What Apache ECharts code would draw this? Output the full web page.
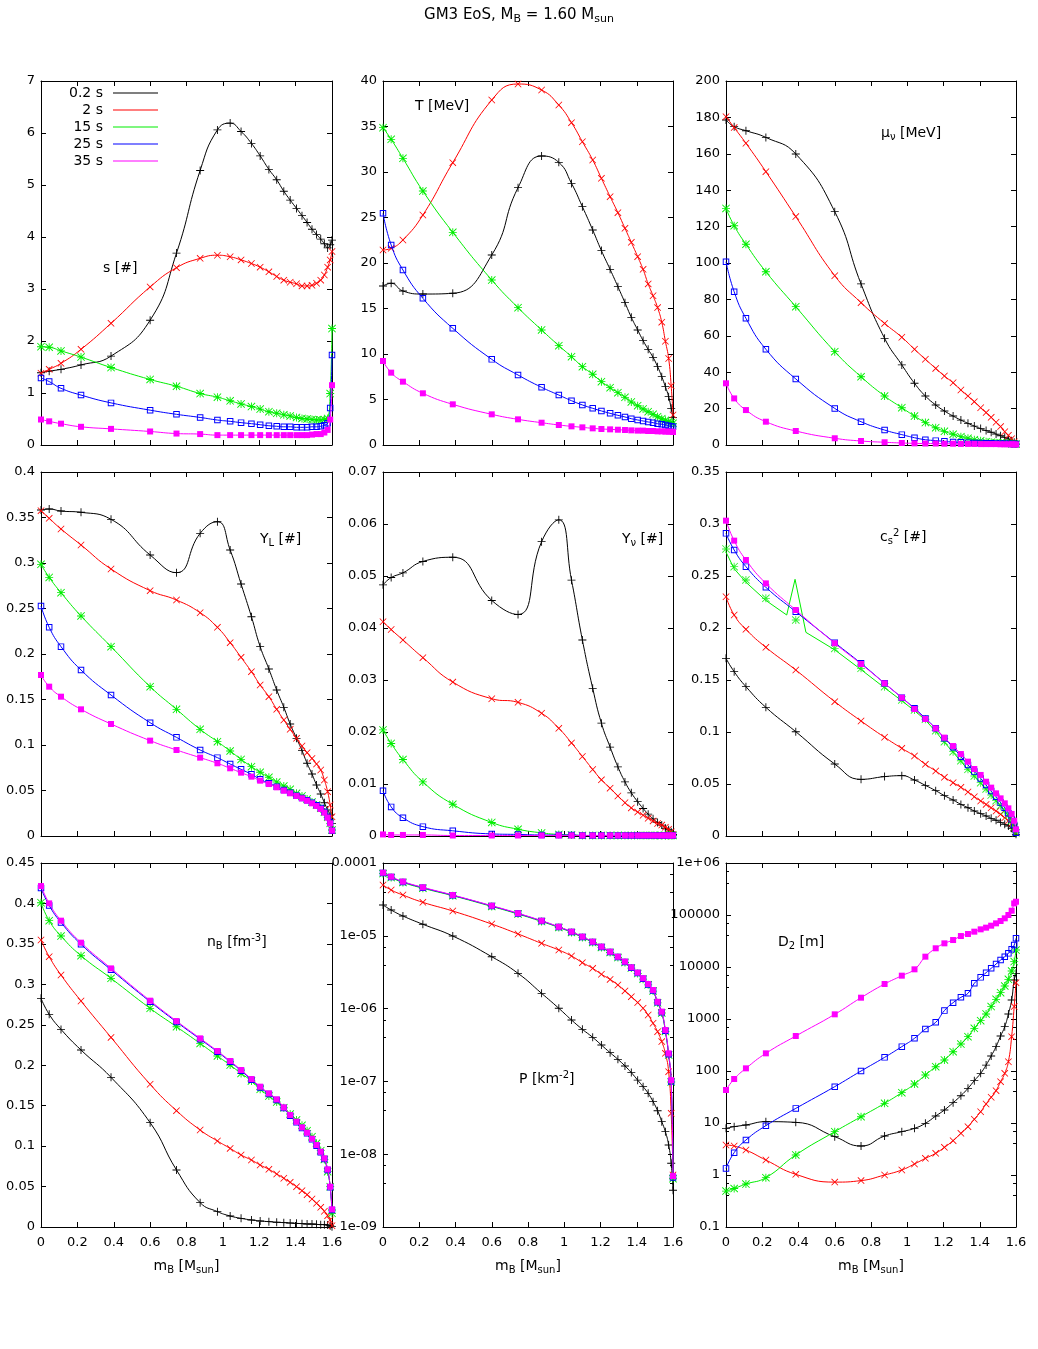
<!DOCTYPE html>
<html><head><meta charset="utf-8">
<script src="https://cdn.jsdelivr.net/npm/echarts@6/dist/echarts.min.js"></script>
<style>html,body{margin:0;padding:0;background:#fff}#c{width:1038px;height:1349px}</style>
</head><body><div id="c"></div>
<script>
// ---------------- data ----------------
const times = ['0.2 s', '2 s', '15 s', '25 s', '35 s'];
const mass = [0, 0.045, 0.11, 0.22, 0.385, 0.6, 0.745, 0.875, 0.97, 1.04, 1.1, 1.157, 1.205, 1.253, 1.296, 1.335, 1.37, 1.405, 1.435, 1.463, 1.49, 1.515, 1.538, 1.558, 1.576, 1.59, 1.6];

// entropy per baryon s [#]
const s02 = [1.39,1.42,1.455,1.54,1.71,2.40,3.69,5.28,6.06,6.19,6.03,5.80,5.56,5.30,5.10,4.88,4.71,4.55,4.41,4.28,4.15,4.05,3.96,3.87,3.79,3.85,3.94];
const s2  = [1.38,1.455,1.57,1.84,2.34,3.04,3.41,3.59,3.65,3.62,3.56,3.49,3.42,3.33,3.24,3.17,3.13,3.10,3.06,3.06,3.07,3.11,3.17,3.27,3.42,3.56,3.72];
const s15 = [1.89,1.88,1.81,1.69,1.49,1.26,1.13,0.99,0.92,0.85,0.79,0.74,0.69,0.64,0.61,0.58,0.56,0.53,0.51,0.50,0.49,0.48,0.48,0.49,0.51,0.99,2.24];
const s25 = [1.29,1.22,1.09,0.96,0.81,0.67,0.59,0.53,0.48,0.455,0.43,0.41,0.39,0.37,0.36,0.35,0.35,0.34,0.34,0.34,0.35,0.35,0.36,0.38,0.42,0.71,1.73];
const s35 = [0.49,0.455,0.41,0.35,0.31,0.26,0.22,0.21,0.19,0.19,0.19,0.19,0.19,0.19,0.19,0.19,0.19,0.19,0.19,0.19,0.20,0.21,0.21,0.24,0.29,0.49,1.15];

// temperature T [MeV]
const T02 = [17.47,17.77,16.92,16.59,16.67,20.88,28.28,31.76,31.06,28.75,26.19,23.63,21.36,19.30,17.40,15.64,14.03,12.64,11.47,10.51,9.63,8.61,7.51,6.41,5.31,4.03,3.04];
const T2  = [21.43,21.61,22.53,25.27,31.03,37.91,39.67,39.01,37.36,35.42,33.33,31.32,29.30,27.29,25.53,23.81,22.27,20.7,19.3,17.7,16.4,15.1,13.5,11.4,9.5,6.5,3.3];
const T15 = [34.87,33.59,31.50,27.91,23.37,18.13,15.09,12.64,10.92,9.71,8.61,7.77,6.96,6.30,5.75,5.24,4.73,4.32,3.96,3.66,3.37,3.11,2.89,2.71,2.56,2.45,2.38];
const T25 = [25.46,21.98,19.23,16.12,12.82,9.41,7.69,6.34,5.49,4.87,4.40,4.03,3.74,3.48,3.26,3.08,2.89,2.75,2.64,2.53,2.45,2.34,2.27,2.20,2.12,2.05,2.01];
const T35 = [9.23,7.95,6.96,5.68,4.47,3.37,2.82,2.45,2.20,2.05,1.94,1.83,1.76,1.72,1.68,1.65,1.61,1.58,1.58,1.54,1.54,1.50,1.50,1.47,1.47,1.47,1.43];

// neutrino chemical potential mu_nu [MeV]
const mu02 = [178.6,174.9,172.7,169.0,159.9,128.2,88.5,58.6,44.0,33.9,26.9,22.0,18.7,15.9,13.7,11.9,10.4,9.0,7.9,7.0,6.0,5.1,4.2,3.3,2.4,1.5,0.5];
const mu2  = [180.4,174.4,165.8,150.2,125.5,93.0,78.2,66.8,59.2,52.6,47.1,42.1,37.9,34.2,30.2,26.9,23.8,20.5,17.8,15.2,12.5,10.1,7.3,5.3,3.5,1.8,0.5];
const mu15 = [130.0,120.5,110.3,95.2,76.0,51.3,37.5,26.9,20.5,15.9,12.3,9.5,7.5,5.9,4.6,3.7,2.9,2.4,1.8,1.5,1.3,1.1,0.9,0.9,0.7,0.7,0.5];
const mu25 = [100.7,84.2,69.6,52.6,36.3,20.1,12.8,8.2,5.7,4.0,2.9,2.4,2.0,1.6,1.5,1.3,1.1,1.1,0.9,0.9,0.8,0.8,0.7,0.7,0.6,0.5,0.5];
const mu35 = [33.9,25.6,19.2,12.8,7.7,3.7,2.2,1.5,1.1,0.9,0.8,0.8,0.7,0.7,0.6,0.6,0.6,0.5,0.5,0.5,0.5,0.4,0.4,0.4,0.4,0.3,0.3];

// lepton fraction Y_L [#]
const YL02 = [0.3582,0.3593,0.3571,0.3557,0.3480,0.3088,0.2894,0.3326,0.3454,0.3143,0.2769,0.2410,0.2081,0.1835,0.1604,0.1414,0.1231,0.1073,0.0938,0.0799,0.0681,0.0560,0.0462,0.0366,0.0286,0.0231,0.0139];
const YL2  = [0.3575,0.3491,0.3374,0.3198,0.2934,0.2696,0.2593,0.2454,0.2293,0.2125,0.1963,0.1806,0.1659,0.1531,0.1392,0.1275,0.1172,0.1073,0.0989,0.0916,0.0853,0.0791,0.0725,0.0615,0.0487,0.0341,0.0212];
const YL15 = [0.2985,0.2842,0.2674,0.2418,0.2081,0.1641,0.1392,0.1172,0.1037,0.0934,0.0842,0.0762,0.0700,0.0645,0.0593,0.0549,0.0513,0.0469,0.0440,0.0407,0.0374,0.0341,0.0304,0.0260,0.0205,0.0139,0.0066];
const YL25 = [0.2527,0.2293,0.2081,0.1824,0.1549,0.1245,0.1084,0.0945,0.0861,0.0791,0.0733,0.0678,0.0623,0.0579,0.0542,0.0505,0.0476,0.0443,0.0418,0.0392,0.0366,0.0337,0.0308,0.0267,0.0212,0.0147,0.0059];
const YL35 = [0.1769,0.1641,0.1531,0.1392,0.1231,0.1048,0.0945,0.0861,0.0799,0.0744,0.0696,0.0652,0.0608,0.0571,0.0535,0.0498,0.0469,0.0440,0.0414,0.0388,0.0359,0.0330,0.0297,0.0256,0.0201,0.0139,0.0059];

// neutrino fraction Y_nu [#]
const Yn02 = [0.0483,0.0497,0.0506,0.0528,0.0536,0.0453,0.0426,0.0566,0.0608,0.0492,0.0377,0.0284,0.0217,0.0171,0.0133,0.0104,0.0083,0.0066,0.0053,0.0042,0.0033,0.0026,0.0021,0.0015,0.0012,0.0008,0.0003];
const Yn2  = [0.0412,0.0397,0.0377,0.0343,0.0296,0.0264,0.0257,0.0236,0.0207,0.0179,0.0153,0.0128,0.0108,0.0092,0.0077,0.0064,0.0054,0.0046,0.0040,0.0034,0.0029,0.0024,0.0021,0.0017,0.0013,0.0008,0.0003];
const Yn15 = [0.0204,0.0178,0.0147,0.0104,0.0061,0.0026,0.0013,0.0006,0.0003,0.0002,0.0001,0.0001,0.0001,0.0001,0.0001,0.0001,0.0001,0.0001,0.0001,0.0001,0.0001,0.0001,0.0001,0.0001,0.0001,0.0001,0.0001];
const Yn25 = [0.0087,0.0056,0.0035,0.0018,0.0010,0.0004,0.0003,0.0002,0.0002,0.0002,0.0001,0.0001,0.0001,0.0001,0.0001,0.0001,0.0001,0.0001,0.0001,0.0001,0.0001,0.0001,0.0001,0.0001,0.0001,0.0001,0.0001];
const Yn35 = [0.0003,0.0002,0.0002,0.0002,0.0001,0.0001,0.0001,0.0001,0.0001,0.0001,0.0001,0.0001,0.0001,0.0001,0.0001,0.0001,0.0001,0.0001,0.0001,0.0001,0.0001,0.0001,0.0001,0.0001,0.0001,0.0001,0.0001];

// sound speed squared c_s^2 [#]
const cs02 = [0.1708,0.1580,0.1436,0.1237,0.1003,0.0692,0.0545,0.0571,0.0580,0.0538,0.0487,0.0436,0.0388,0.0346,0.0304,0.0272,0.0240,0.0215,0.0192,0.0170,0.0151,0.0131,0.0112,0.0096,0.0074,0.0048,0.0016];
const cs2  = [0.2301,0.2125,0.1987,0.1814,0.1596,0.1292,0.1106,0.0949,0.0843,0.0769,0.0689,0.0625,0.0564,0.0513,0.0468,0.0423,0.0378,0.0337,0.0304,0.0272,0.0240,0.0208,0.0176,0.0147,0.0122,0.0083,0.0032];
const cs15 = [0.2760,0.2590,0.2462,0.2285,0.2077,0.1804,0.1612,0.1436,0.1308,0.1212,0.1122,0.1013,0.0907,0.0811,0.0724,0.0641,0.0577,0.0513,0.0452,0.0394,0.0340,0.0292,0.0244,0.0196,0.0147,0.0090,0.0032];
const cs25 = [0.2910,0.2750,0.2590,0.2391,0.2157,0.1859,0.1660,0.1468,0.1330,0.1228,0.1131,0.1035,0.0939,0.0853,0.0763,0.0683,0.0619,0.0554,0.0490,0.0433,0.0378,0.0321,0.0272,0.0218,0.0160,0.0106,0.0032];
const cs35 = [0.3032,0.2840,0.2654,0.2429,0.2173,0.1853,0.1654,0.1468,0.1330,0.1221,0.1125,0.1035,0.0946,0.0865,0.0788,0.0715,0.0644,0.0587,0.0522,0.0465,0.0410,0.0362,0.0314,0.0266,0.0212,0.0147,0.0064];
// the 15 s curve of c_s^2 (line only, with its glitch)
const cs15LineX = [0,0.045,0.11,0.22,0.335,0.381,0.441,0.6,0.745,0.875,0.97,1.04,1.1,1.157,1.205,1.253,1.296,1.335,1.37,1.405,1.435,1.463,1.49,1.515,1.538,1.558,1.576,1.59,1.6];
const cs15LineY = [0.2730,0.2570,0.2440,0.2265,0.2125,0.2468,0.1958,0.1790,0.1600,0.1425,0.1300,0.1205,0.1115,0.1005,0.0900,0.0805,0.0718,0.0636,0.0572,0.0508,0.0448,0.0390,0.0336,0.0288,0.0240,0.0193,0.0145,0.0088,0.0030];

// baryon density n_B [fm^-3]
const nB02 = [0.2827,0.2629,0.2443,0.2188,0.1850,0.1290,0.0705,0.0301,0.0190,0.0136,0.0107,0.0087,0.0074,0.0066,0.0058,0.0054,0.0049,0.0045,0.0041,0.0037,0.0037,0.0033,0.0029,0.0029,0.0025,0.0016,0.0004];
const nB2  = [0.3548,0.3342,0.3115,0.2794,0.2344,0.1764,0.1438,0.1199,0.1063,0.0972,0.0890,0.0828,0.0766,0.0713,0.0655,0.0602,0.0552,0.0499,0.0449,0.0400,0.0346,0.0293,0.0243,0.0194,0.0140,0.0087,0.0016];
const nB15 = [0.4009,0.3787,0.3597,0.3354,0.3074,0.2703,0.2476,0.2270,0.2114,0.2002,0.1899,0.1805,0.1702,0.1619,0.1545,0.1475,0.1397,0.1323,0.1257,0.1191,0.1117,0.1034,0.0944,0.0836,0.0684,0.0499,0.0169];
const nB25 = [0.4190,0.3975,0.3765,0.3495,0.3180,0.2785,0.2535,0.2322,0.2166,0.2043,0.1932,0.1820,0.1726,0.1643,0.1569,0.1470,0.1376,0.1294,0.1224,0.1158,0.1084,0.1006,0.0923,0.0841,0.0705,0.0491,0.0210];
const nB35 = [0.4215,0.4001,0.3787,0.3515,0.3197,0.2798,0.2546,0.2332,0.2176,0.2052,0.1941,0.1829,0.1735,0.1652,0.1578,0.1479,0.1384,0.1302,0.1232,0.1166,0.1092,0.1014,0.0931,0.0849,0.0713,0.0499,0.0218];

// pressure P [km^-2]
const P02 = [2.65e-5,2.26e-5,1.87e-5,1.44e-5,9.93e-6,5.16e-6,3.05e-6,1.62e-6,1.01e-6,6.97e-7,5.19e-7,4.03e-7,3.16e-7,2.48e-7,2.01e-7,1.63e-7,1.32e-7,1.04e-7,8.47e-8,6.86e-8,5.27e-8,3.96e-8,2.80e-8,2.04e-8,1.34e-8,7.5e-9,3.2e-9];
const P2  = [4.99e-5,4.26e-5,3.63e-5,2.88e-5,2.19e-5,1.45e-5,1.06e-5,7.87e-6,6.38e-6,5.28e-6,4.28e-6,3.57e-6,2.96e-6,2.52e-6,2.11e-6,1.75e-6,1.46e-6,1.21e-6,1.01e-6,8.17e-7,6.28e-7,4.82e-7,3.52e-7,2.43e-7,1.36e-7,3.64e-8,5.2e-9];
const P15 = [7.15e-5,6.30e-5,5.40e-5,4.50e-5,3.55e-5,2.53e-5,1.99e-5,1.57e-5,1.30e-5,1.11e-5,9.50e-6,8.10e-6,6.93e-6,5.90e-6,5.03e-6,4.30e-6,3.60e-6,3.03e-6,2.54e-6,2.12e-6,1.74e-6,1.20e-6,8.7e-7,4.85e-7,2.3e-7,9.8e-8,4.6e-9];
const P25 = [7.30e-5,6.42e-5,5.50e-5,4.58e-5,3.60e-5,2.57e-5,2.02e-5,1.60e-5,1.32e-5,1.13e-5,9.65e-6,8.22e-6,7.03e-6,6.00e-6,5.11e-6,4.37e-6,3.65e-6,3.08e-6,2.58e-6,2.15e-6,1.77e-6,1.22e-6,8.9e-7,4.95e-7,2.36e-7,1.0e-7,4.8e-9];
const P35 = [7.36e-5,6.49e-5,5.55e-5,4.63e-5,3.63e-5,2.59e-5,2.04e-5,1.61e-5,1.33e-5,1.14e-5,9.73e-6,8.30e-6,7.10e-6,6.05e-6,5.16e-6,4.42e-6,3.69e-6,3.12e-6,2.61e-6,2.18e-6,1.80e-6,1.24e-6,9.08e-7,5.08e-7,2.43e-7,1.04e-7,5e-9];

// diffusion length D_2 [m]
const D02 = [7.89,8.50,9.16,10.6,10.3,5.46,3.61,5.62,6.81,7.89,9.86,13.6,17.8,24.6,33.5,46.4,65.2,90.2,130,194,294,471,713,1250,2320,5620,7550];
const D2  = [3.78,3.61,3.03,1.94,1.03,0.73,0.78,1.00,1.25,1.63,2.09,2.61,3.40,4.57,6.32,8.50,11.8,16.5,23.2,31.2,41.9,62.4,90.2,151,457,1730,5000];
const D15 = [0.49,0.55,0.67,0.89,2.43,6.81,13.2,23.9,38.3,56.2,83.7,121,163,235,330,457,662,929,1250,1730,2390,3210,4310,5790,8380,12700,21200];
const D25 = [1.34,2.69,4.71,8.89,19.1,50.0,100,183,294,425,643,863,1450,2060,2610,3120,4850,6320,7780,9420,11400,13600,15800,18300,21900,26500,35600];
const D35 = [43.1,70.2,112.5,218.6,471,1230,2570,4710,6810,9020,15800,22900,28500,33000,39400,43100,47800,53000,57100,62300,69100,76700,86300,100000,121000,167000,180000];

// ---------------- layout / style ----------------
const FF = 'DejaVu Sans';
const colors = ['#000000', '#ff0000', '#00ee00', '#0000ff', '#ff00ff'];
const PLUS = 'M0,4.45H10V5.55H0Z M4.45,0H5.55V10H4.45Z';
const CROSS = 'M0.8,0L10,9.2L9.2,10L0,0.8Z M9.2,0L10,0.8L0.8,10L0,9.2Z';
const OPENSQ = 'M0,0H10V10H0Z M1.5,1.5V8.5H8.5V1.5Z';
const symbols = ['path://' + PLUS, 'path://' + CROSS, 'path://' + PLUS + ' ' + CROSS, 'path://' + OPENSQ, 'rect'];
const symbolSizes = [8, 7, 8, 6.5, 6];

const colLeft = [41, 383, 726], colWidth = [291, 290, 290];
const rowTop = [81, 472, 863], rowHeight = 364;

const panels = [
  {data: [s02, s2, s15, s25, s35], min: 0, max: 7, interval: 1},
  {data: [T02, T2, T15, T25, T35], min: 0, max: 40, interval: 5},
  {data: [mu02, mu2, mu15, mu25, mu35], min: 0, max: 200, interval: 20},
  {data: [YL02, YL2, YL15, YL25, YL35], min: 0, max: 0.4, interval: 0.05},
  {data: [Yn02, Yn2, Yn15, Yn25, Yn35], min: 0, max: 0.07, interval: 0.01},
  {data: [cs02, cs2, cs15, cs25, cs35], min: 0, max: 0.35, interval: 0.05},
  {data: [nB02, nB2, nB15, nB25, nB35], min: 0, max: 0.45, interval: 0.05},
  {data: [P02, P2, P15, P25, P35], log: true, min: 1e-9, max: 1e-4, split: 5},
  {data: [D02, D2, D15, D25, D35], log: true, min: 0.1, max: 1e6, split: 7}
];

panels.forEach((p, i) => p.data.forEach((a, j) => {
  if (a.length !== mass.length) throw new Error('length mismatch panel ' + i + ' series ' + j + ': ' + a.length);
}));
if (cs15LineX.length !== cs15LineY.length) throw new Error('cs15 line mismatch');

function gfmt(v) {
  const e = Math.round(Math.log10(v));
  if (e < -4 || e >= 6) return '1e' + (e < 0 ? '-' : '+') + String(Math.abs(e)).padStart(2, '0');
  return String(Number(v.toPrecision(6)));
}

const tok = (size, pad) => ({fontSize: size, fontFamily: FF, fontWeight: 'normal', color: '#000', verticalAlign: 'middle', padding: pad || 0});
const rich = {t: tok(14), b: tok(10, [8, 0, 0, 0]), p: tok(10, [0, 0, 9, 0])};
const richTitle = {t: tok(15), b: tok(11, [8, 0, 0, 0])};

const grid = [], xAxis = [], yAxis = [], series = [];
const axisLine = {show: true, onZero: false, lineStyle: {color: '#000', width: 1}};
const axisTick = {show: true, inside: true, length: 5, lineStyle: {color: '#000', width: 1}};

panels.forEach((p, k) => {
  const r = Math.floor(k / 3), c = k % 3;
  grid.push({left: colLeft[c], top: rowTop[r], width: colWidth[c], height: rowHeight, containLabel: false});
  const xBase = {type: 'value', gridIndex: k, min: 0, max: 1.6, interval: 0.2, axisLine, axisTick,
    splitLine: {show: false}};
  xAxis.push(Object.assign({}, xBase, {position: 'bottom',
    axisLabel: {show: r === 2, color: '#000', fontSize: 13, fontFamily: FF, margin: 9, showMinLabel: true, showMaxLabel: true},
    name: r === 2 ? '{t|m}{b|B}{t| [M}{b|sun}{t|]}' : '', nameLocation: 'middle', nameGap: 30,
    nameTextStyle: {rich}}));
  xAxis.push(Object.assign({}, xBase, {position: 'top', axisLabel: {show: false}}));
  const yBase = p.log
    ? {type: 'log', logBase: 10, min: p.min, max: p.max, splitNumber: p.split,
       minorTick: {show: true, splitNumber: 3, length: 3, lineStyle: {color: '#000'}}}
    : {type: 'value', min: p.min, max: p.max, interval: p.interval};
  yAxis.push(Object.assign({gridIndex: k, position: 'left', axisLine, axisTick, splitLine: {show: false}, minorSplitLine: {show: false},
    axisLabel: {color: '#000', fontSize: 13, fontFamily: FF, margin: 6, showMinLabel: true, showMaxLabel: true,
      formatter: p.log ? gfmt : undefined}}, yBase));
  yAxis.push(Object.assign({gridIndex: k, position: 'right', axisLine, axisTick, splitLine: {show: false}, minorSplitLine: {show: false},
    axisLabel: {show: false}}, yBase));

  p.data.forEach((arr, j) => {
    const common = {name: times[j], xAxisIndex: 2 * k, yAxisIndex: 2 * k, color: colors[j], z: 2 + j};
    const pts = mass.map((m, i) => [m, arr[i]]);
    const sym = {symbol: symbols[j], symbolSize: symbolSizes[j],
      itemStyle: {color: colors[j], borderWidth: 0}};
    if (k === 5 && j === 2) {
      series.push(Object.assign({}, common, {type: 'line', data: cs15LineX.map((m, i) => [m, cs15LineY[i]]),
        showSymbol: false, symbol: 'none', smooth: false, lineStyle: {width: 1, color: colors[j]}}));
      series.push(Object.assign({}, common, sym, {type: 'scatter', data: pts}));
    } else {
      series.push(Object.assign({}, common, sym, {type: 'line', data: pts, showSymbol: true, showAllSymbol: true,
        smooth: 0.5, lineStyle: {width: 1, color: colors[j]}}));
    }
  });
});

const labelDefs = [
  {text: '{t|s [#]}', left: 103, top: 261},
  {text: '{t|T [MeV]}', left: 415, top: 99},
  {text: '{t|μ}{b|ν}{t| [MeV]}', left: 881, top: 124},
  {text: '{t|Y}{b|L}{t| [#]}', left: 260, top: 530},
  {text: '{t|Y}{b|ν}{t| [#]}', left: 622, top: 530},
  {text: '{t|c}{b|s}{p|2}{t| [#]}', left: 880, top: 528},
  {text: '{t|n}{b|B}{t| [fm}{p|-3}{t|]}', left: 207, top: 933},
  {text: '{t|P [km}{p|-2}{t|]}', left: 519, top: 1070},
  {text: '{t|D}{b|2}{t| [m]}', left: 778, top: 933}
];
const title = [{text: '{t|GM3 EoS, M}{b|B}{t| = 1.60 M}{b|sun}', left: 'center', top: 6, padding: 0,
    textStyle: {fontWeight: 'normal', rich: richTitle}}]
  .concat(labelDefs.map(d => ({text: d.text, left: d.left, top: d.top, padding: 0, textStyle: {fontWeight: 'normal', rich}})));

const legend = times.map((t, i) => ({
  data: [t], right: 880, top: 86 + 17 * i, orient: 'horizontal', align: 'right', icon: 'rect',
  itemWidth: 45, itemHeight: 1, padding: 0, selectedMode: false,
  itemStyle: {borderWidth: 0, color: colors[i]},
  textStyle: {fontSize: 14, fontFamily: FF, color: '#000', padding: [0, 5, 0, 0]}
}));

const chart = echarts.init(document.getElementById('c'), null, {renderer: 'canvas'});
chart.setOption({animation: false, backgroundColor: '#fff', title, legend, grid, xAxis, yAxis, series, tooltip: {show: false}});
</script>
</body></html>
